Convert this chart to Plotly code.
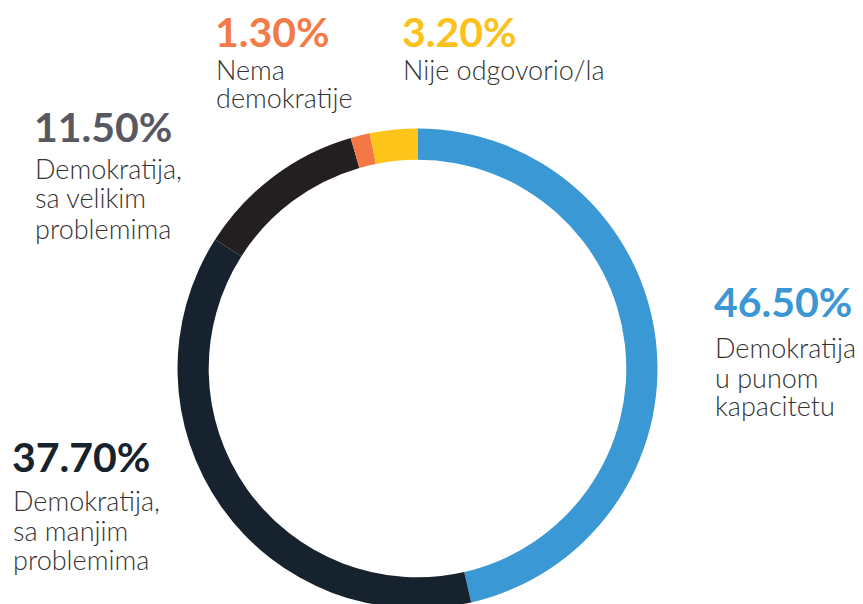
import plotly.graph_objects as go

# ---- data ----
categories = ["Demokratija u punom kapacitetu", "Demokratija, sa manjim problemima",
              "Demokratija, sa velikim problemima", "Nema demokratije", "Nije odgovorio/la"]
values = [46.5, 37.7, 11.5, 1.3, 3.2]
value_labels = ["46.50%", "37.70%", "11.50%", "1.30%", "3.20%"]
label_lines = [["Demokratija", "u punom", "kapacitetu"],
               ["Demokratija,", "sa manjim", "problemima"],
               ["Demokratija,", "sa velikim", "problemima"],
               ["Nema", "demokratije"],
               ["Nije odgovorio/la"]]
colors = ["#3A98D4", "#16222D", "#231F20", "#F37846", "#FEC41A"]
text_colors = ["#3B97D3", "#16222D", "#585862", "#F47A47", "#FDC11B"]

W, H = 863, 620
OFF = 8  # page body margin
CX, CY, R = 417.5, 368.5, 240.0

def px_x(x):
    return (x - OFF) / W

def px_y(y):
    return (H - (y - OFF)) / H

fig = go.Figure(go.Pie(
    labels=categories, values=values, sort=False, direction="clockwise", rotation=0,
    hole=0.87, marker=dict(colors=colors, line=dict(width=0)),
    textinfo="none", hoverinfo="label+value", showlegend=False,
    domain=dict(x=[px_x(CX - R), px_x(CX + R)], y=[px_y(CY + R), px_y(CY - R)]),
))

# label layout: (left x, number cap-centre y, list of line cap-centre y)
layout_pos = [
    (712, 301, [347, 377, 406]),
    (10, 457, [500, 530, 559]),
    (32, 127, [168, 198, 228]),
    (213, 32, [69, 98]),
    (400, 32, [69]),
]

ann = []
for i, (x, ny, lys) in enumerate(layout_pos):
    ann.append(dict(x=px_x(x), y=px_y(ny), xref="paper", yref="paper",
                    xanchor="left", yanchor="middle", showarrow=False,
                    text=value_labels[i],
                    font=dict(family="Lato", size=41, color=text_colors[i], weight="bold")))
    for line, ly in zip(label_lines[i], lys):
        ann.append(dict(x=px_x(x + 1), y=px_y(ly), xref="paper", yref="paper",
                        xanchor="left", yanchor="middle", showarrow=False,
                        text=line,
                        font=dict(family="Lato", size=27, color="#333333", weight=300)))

fig.update_layout(width=W, height=H, margin=dict(l=0, r=0, t=0, b=0),
                  paper_bgcolor="white", plot_bgcolor="white", annotations=ann)

fig.write_html("out.html")
